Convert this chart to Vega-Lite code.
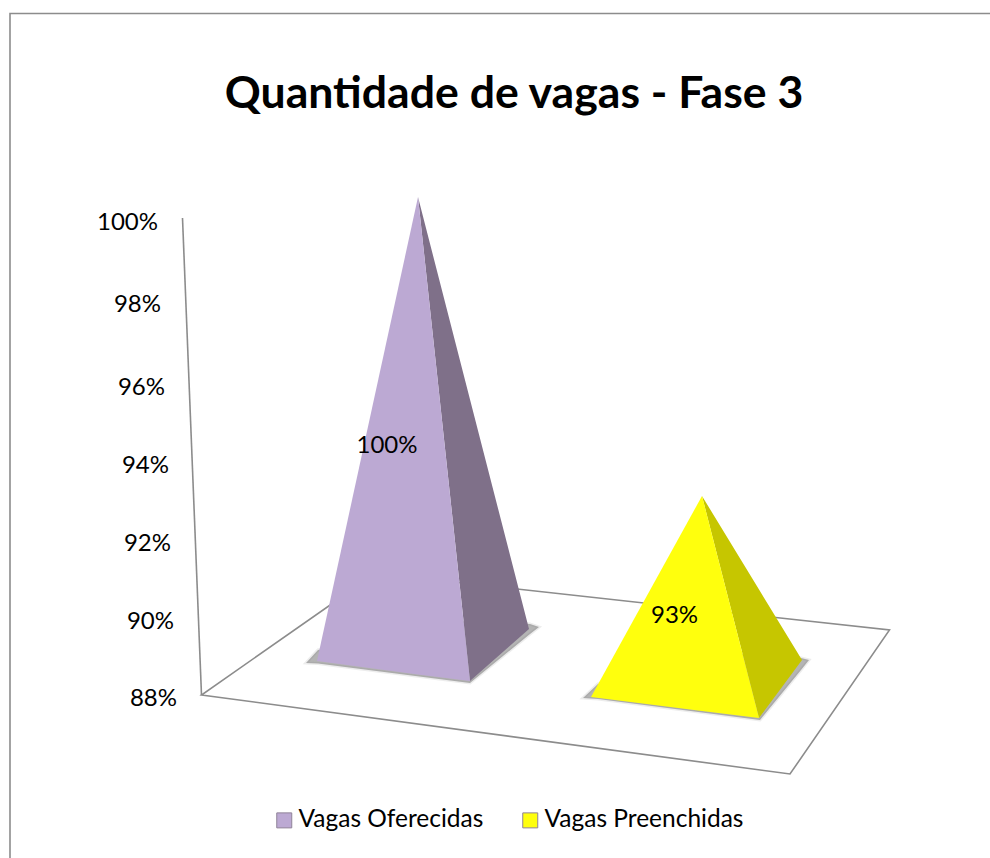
{
"$schema":"https://vega.github.io/schema/vega-lite/v6.json",
"width":990,"height":858,"padding":0,"autosize":{"type":"none"},"background":"white",
"title":{"text":"Quantidade de vagas - Fase 3","font":"Lato","fontWeight":"bold","fontSize":44.6,"color":"#000000","anchor":"middle","frame":"group","offset":-153,"baseline":"alphabetic","dx":19},
"config":{"view":{"stroke":null}},
"datasets":{
"lines":[
{"part":"moldura","ord":1,"x":10,"y":858},{"part":"moldura","ord":2,"x":10,"y":13.5},{"part":"moldura","ord":3,"x":990,"y":13.5},
{"part":"parede","ord":1,"x":182.5,"y":218},{"part":"parede","ord":2,"x":201.5,"y":695},
{"part":"piso","ord":1,"x":376,"y":573},{"part":"piso","ord":2,"x":201.5,"y":695},{"part":"piso","ord":3,"x":790,"y":774},{"part":"piso","ord":4,"x":889.5,"y":630},{"part":"piso","ord":5,"x":376,"y":573.5}
],
"shadows":[
{"serie":"Vagas Oferecidas","x":306,"y":663,"y2":663},{"serie":"Vagas Oferecidas","x":318,"y":663.5,"y2":650},{"serie":"Vagas Oferecidas","x":470,"y":683,"y2":620},{"serie":"Vagas Oferecidas","x":530,"y":634,"y2":624},{"serie":"Vagas Oferecidas","x":539,"y":627,"y2":627},
{"serie":"Vagas Preenchidas","x":583,"y":698,"y2":698},{"serie":"Vagas Preenchidas","x":598,"y":699,"y2":684},{"serie":"Vagas Preenchidas","x":760,"y":720,"y2":650},{"serie":"Vagas Preenchidas","x":801,"y":670,"y2":658},{"serie":"Vagas Preenchidas","x":809,"y":660,"y2":660}
],
"fronts":[
{"serie":"Vagas Oferecidas","x":317,"y":661,"y2":661},{"serie":"Vagas Oferecidas","x":418,"y":674.5,"y2":197},{"serie":"Vagas Oferecidas","x":470,"y":681,"y2":681},
{"serie":"Vagas Preenchidas","x":591,"y":697,"y2":697},{"serie":"Vagas Preenchidas","x":702,"y":711,"y2":496},{"serie":"Vagas Preenchidas","x":759,"y":718,"y2":718}
],
"sidesA":[{"x":418,"y":197,"y2":197},{"x":470,"y":681,"y2":399.4},{"x":529,"y":629,"y2":629}],
"sidesB":[{"x":702,"y":496,"y2":496},{"x":759,"y":718,"y2":589.5},{"x":802,"y":660,"y2":660}],
"ticks":[
{"label":"100%","x":158,"y":223},{"label":"98%","x":161,"y":305},{"label":"96%","x":165,"y":388},{"label":"94%","x":169,"y":466},{"label":"92%","x":171,"y":544},{"label":"90%","x":174,"y":622},{"label":"88%","x":177,"y":699}
],
"values":[{"label":"100%","x":387,"y":446},{"label":"93%","x":674.5,"y":616}]
},
"encoding":{
"x":{"field":"x","type":"quantitative","scale":{"domain":[0,990],"nice":false,"zero":false},"axis":null},
"y":{"field":"y","type":"quantitative","scale":{"domain":[0,858],"reverse":true,"nice":false,"zero":false},"axis":null}
},
"layer":[
{"data":{"name":"lines"},"mark":{"type":"line","color":"#8c8c8c","strokeWidth":1.6},"encoding":{"detail":{"field":"part"},"order":{"field":"ord"}}},
{"data":{"name":"shadows"},"mark":{"type":"area","fill":"#6a6a6a","fillOpacity":0.5,"stroke":"#6a6a6a","strokeOpacity":0.12,"strokeWidth":3},"encoding":{"y2":{"field":"y2"},"detail":{"field":"serie"}}},
{"data":{"name":"sidesA"},"mark":{"type":"area","color":"#7F7089"},"encoding":{"y2":{"field":"y2"}}},
{"data":{"name":"sidesB"},"mark":{"type":"area","color":"#C6C600"},"encoding":{"y2":{"field":"y2"}}},
{"data":{"name":"fronts"},"mark":{"type":"area"},"encoding":{"y2":{"field":"y2"},
"color":{"field":"serie","type":"nominal","scale":{"domain":["Vagas Oferecidas","Vagas Preenchidas"],"range":["#BCA9D3","#FFFF0D"]},
"legend":{"orient":"none","legendX":272,"legendY":808,"direction":"horizontal","title":null,"symbolType":"square","symbolSize":225,"symbolStrokeColor":"#8f8399","symbolStrokeWidth":1,"labelFont":"Lato","labelFontSize":24.5,"labelColor":"#000000","labelOffset":2,"columnPadding":34,"labelLimit":300}}}},
{"data":{"name":"ticks"},"mark":{"type":"text","font":"Lato","fontSize":24,"align":"right","baseline":"middle","color":"#000000"},"encoding":{"text":{"field":"label"}}},
{"data":{"name":"values"},"mark":{"type":"text","font":"Lato","fontSize":24,"align":"center","baseline":"middle","color":"#000000"},"encoding":{"text":{"field":"label"}}}
]
}
